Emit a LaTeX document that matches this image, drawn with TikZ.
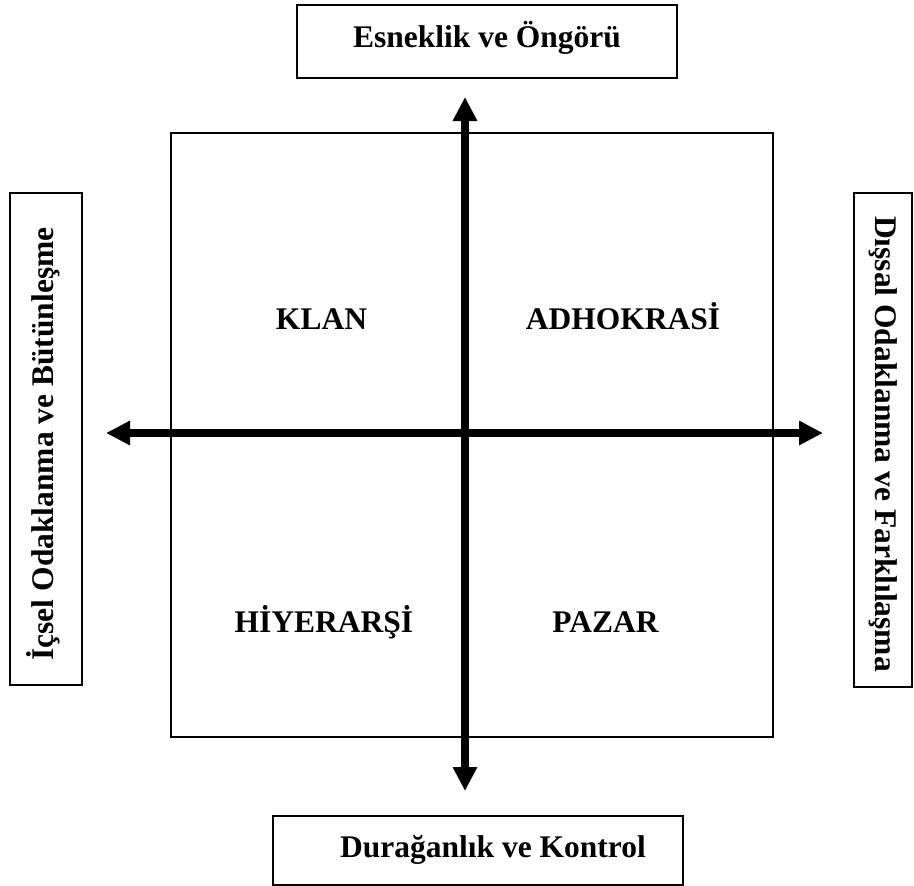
\documentclass[tikz,border=0pt]{standalone}
\usepackage{fontspec}
\setmainfont{Liberation Serif}
\usetikzlibrary{arrows.meta}
\begin{document}
\begin{tikzpicture}[x=1pt,y=-1pt,
  frame/.style={draw=black, line width=2pt, fill=white, inner sep=0pt},
  label/.style={inner sep=0pt, anchor=base, font=\fontsize{31.5}{36}\selectfont\bfseries},
  axis/.style={line width=7.5pt, {Triangle[length=24pt,width=23pt]}-{Triangle[length=24pt,width=23pt]}}]
  \useasboundingbox (0,0) rectangle (914,886);

  % culture grid
  \node[frame, minimum width=602pt, minimum height=604pt] (grid) at (472,435) {};

  % side frames
  \node[frame, minimum width=380pt, minimum height=73pt] (topbox) at (487,41.5) {};
  \node[frame, minimum width=410pt, minimum height=69pt] (botbox) at (478,850.5) {};
  \node[frame, minimum width=72pt, minimum height=492pt] (leftbox) at (46,439) {};
  \node[frame, minimum width=58pt, minimum height=494pt] (rightbox) at (883,440) {};

  % dimension labels
  \node[label] (toplbl) at (487,47) {Esneklik ve Öngörü};
  \node[label] (botlbl) at (493,857) {Durağanlık ve Kontrol};
  \node[label, rotate=90] (leftlbl) at (53,444) {İçsel Odaklanma ve Bütünleşme};
  \node[label, rotate=-90] (rightlbl) at (875,444) {Dışsal Odaklanma ve Farklılaşma};

  % quadrant labels
  \node[label] (klan) at (321.5,329) {KLAN};
  \node[label] (adho) at (623,329) {ADHOKRASİ};
  \node[label] (hiy) at (324,632) {HİYERARŞİ};
  \node[label] (pazar) at (605.5,632) {PAZAR};

  % axes
  \coordinate (N) at (465,97);
  \coordinate (S) at (465,791);
  \coordinate (W) at (106,433);
  \coordinate (E) at (823,433);
  \draw[axis] (W) -- (E);
  \draw[axis] (N) -- (S);
\end{tikzpicture}
\end{document}
